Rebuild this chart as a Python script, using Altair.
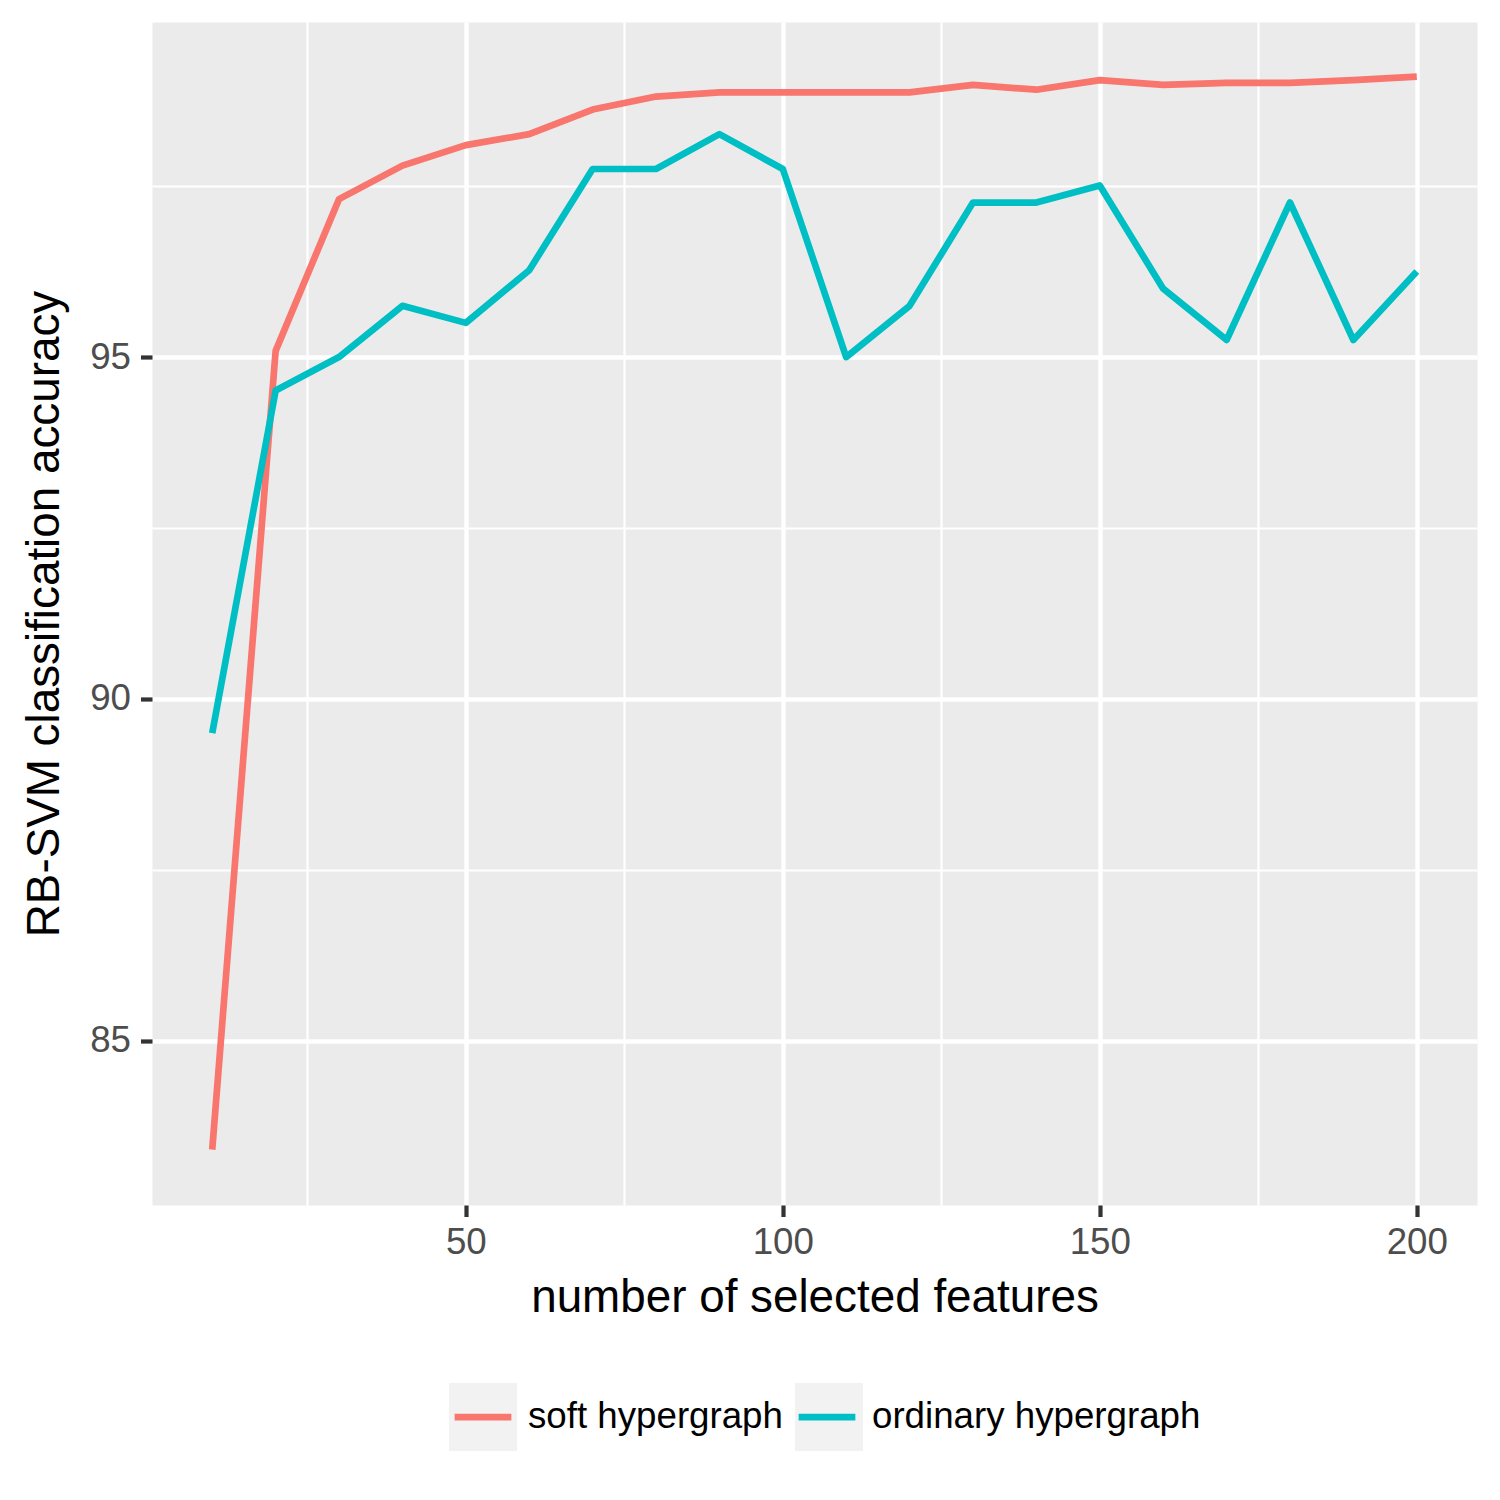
import altair as alt
import pandas as pd

# ---- data ----
FEATURES = [10, 20, 30, 40, 50, 60, 70, 80, 90, 100,
            110, 120, 130, 140, 150, 160, 170, 180, 190, 200]
SOFT = [83.41, 95.09, 97.31, 97.80, 98.10, 98.26, 98.62, 98.81, 98.87, 98.87,
        98.87, 98.87, 98.98, 98.91, 99.05, 98.98, 99.01, 99.01, 99.05, 99.10]
ORDINARY = [89.50, 94.51, 95.00, 95.75, 95.50, 96.27, 97.75, 97.75, 98.26, 97.75,
            95.00, 95.75, 97.26, 97.26, 97.51, 96.00, 95.25, 97.26, 95.25, 96.25]
SERIES = ["soft hypergraph", "ordinary hypergraph"]
COLORS = ["#F8766D", "#00BFC4"]
X_TICKS = [50, 100, 150, 200]
X_MINOR = [25, 75, 125, 175]
Y_TICKS = [85, 90, 95]
Y_MINOR = [87.5, 92.5, 97.5]

rows = []
for name, vals in zip(SERIES, [SOFT, ORDINARY]):
    for f, v in zip(FEATURES, vals):
        rows.append({"features": f, "accuracy": v, "series": name, "bg": name + " bg"})
df = pd.DataFrame(rows)

FONT = "Liberation Sans"
W, H = 1325, 1183

xscale = alt.Scale(domain=[0.5, 209.5], nice=False, zero=False)
yscale = alt.Scale(domain=[82.6, 99.9], nice=False, zero=False)

main_x_axis = alt.Axis(
    orient="bottom", values=X_TICKS, title="number of selected features",
    grid=True, gridColor="white", gridWidth=4.4, domain=False,
    ticks=True, tickSize=11.5, tickWidth=4.2, tickColor="#333333",
    labelFont=FONT, labelFontSize=36.7, labelColor="#4D4D4D", labelPadding=8,
    labelOverlap=False, labelFlush=False,
    titleFont=FONT, titleFontSize=45.8, titleFontWeight="normal", titleColor="black",
    titleY=106, titleBaseline="alphabetic", titleX=W / 2, titleAlign="center",
)
main_y_axis = alt.Axis(
    orient="left", values=Y_TICKS, title="RB-SVM classification accuracy",
    grid=True, gridColor="white", gridWidth=4.4, domain=False,
    ticks=True, tickSize=11.5, tickWidth=4.2, tickColor="#333333",
    labelFont=FONT, labelFontSize=36.7, labelColor="#4D4D4D", labelPadding=10,
    labelOverlap=False, labelFlush=False,
    titleFont=FONT, titleFontSize=45.8, titleFontWeight="normal", titleColor="black",
    titleX=-94, titleY=H / 2, titleAngle=270, titleBaseline="alphabetic", titleAlign="center",
)
minor_x_axis = alt.Axis(
    orient="bottom", values=X_MINOR, title=None, grid=True, gridColor="white",
    gridWidth=2.2, domain=False, ticks=False, labels=False,
)
minor_y_axis = alt.Axis(
    orient="left", values=Y_MINOR, title=None, grid=True, gridColor="white",
    gridWidth=2.2, domain=False, ticks=False, labels=False,
)

LEG_X, LEG_Y = 297, 1361

# grey key boxes behind the legend lines (legend with no label text)
bg = alt.Chart(df).transform_filter("false").mark_point(
    filled=True, color="#F2F2F2", opacity=1
).encode(
    x=alt.X("features:Q", scale=xscale, axis=minor_x_axis),
    y=alt.Y("accuracy:Q", scale=yscale, axis=minor_y_axis),
    shape=alt.Shape(
        "bg:N",
        scale=alt.Scale(domain=[s + " bg" for s in SERIES], range=["square", "square"]),
        legend=alt.Legend(
            title=None, orient="none", legendX=LEG_X, legendY=LEG_Y,
            direction="horizontal", symbolSize=4624, symbolStrokeWidth=0,
            symbolFillColor="#F2F2F2", symbolOpacity=1,
            labelFont=FONT, labelFontSize=36.7, labelOffset=11, labelOpacity=0,
            labelExpr="''",
            columnPadding=267, padding=0, labelLimit=0, zindex=0,
        ),
    ),
)

lines = alt.Chart(df).mark_line(strokeWidth=6.7, strokeCap="butt", strokeJoin="round").encode(
    x=alt.X("features:Q", scale=xscale, axis=main_x_axis),
    y=alt.Y("accuracy:Q", scale=yscale, axis=main_y_axis),
    color=alt.Color(
        "series:N",
        scale=alt.Scale(domain=SERIES, range=COLORS),
        legend=alt.Legend(
            title=None, orient="none", legendX=LEG_X, legendY=LEG_Y,
            direction="horizontal", symbolType="M-0.93,0H0.93", symbolSize=3721,
            symbolStrokeWidth=6.7,
            labelFont=FONT, labelFontSize=36.7, labelColor="black", labelOffset=11,
            columnPadding=2, padding=0, labelLimit=0, zindex=1,
        ),
    ),
)

chart = alt.layer(bg, lines).resolve_axis(x="independent", y="independent").properties(
    width=W, height=H,
    autosize=alt.AutoSizeParams(type="none"),
    padding={"left": 144, "top": 14, "right": 15, "bottom": 280},
    background="white",
).configure_view(fill="#EBEBEB", stroke="transparent")

chart.save("out.html", embed_options={"renderer": "svg", "actions": False})
